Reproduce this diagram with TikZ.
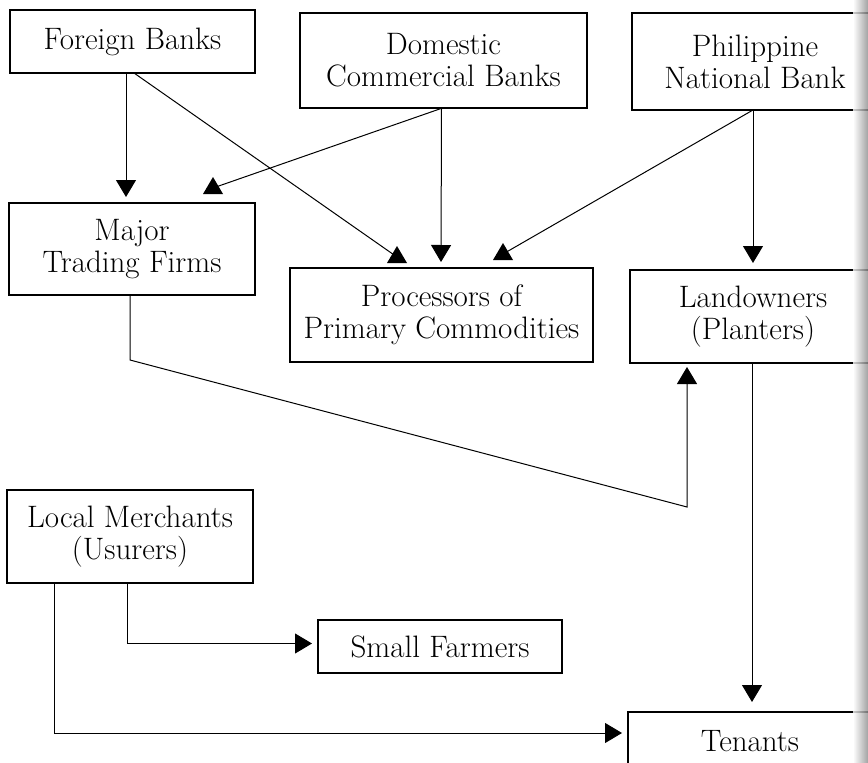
\documentclass[tikz,border=0pt]{standalone}
\usetikzlibrary{calc,arrows.meta}
\begin{document}
\begin{tikzpicture}[x=1pt,y=-1pt,
  box/.style={draw, line width=1.8pt, align=center, inner sep=0pt, outer sep=0pt,
    font=\fontsize{31}{32}\selectfont},
  link/.style={line width=1pt},
  arr/.style={link, -{Triangle[width=20pt,length=17pt]}},
  uptri/.style={fill=black}
]
\useasboundingbox (0,0) rectangle (868,763);
\fill[white] (0,0) rectangle (868,763);
\begin{scope}
\clip (0,0) rectangle (868,763);
% boxes
\node[box, minimum width=245, minimum height=63] (fb)  at (132.5,41.5) {Foreign Banks};
\node[box, minimum width=287, minimum height=95] (dcb) at (443.5,60.5) {Domestic\\Commercial Banks};
\node[box, minimum width=246, minimum height=97] (pnb) at (755,61.5) {Philippine\\National Bank};
\node[box, minimum width=246, minimum height=92] (mtf) at (132,249) {Major\\Trading Firms};
\node[box, minimum width=303, minimum height=94] (ppc) at (441.5,315) {Processors of\\Primary Commodities};
\node[box, minimum width=246, minimum height=93] (lo)  at (753,316.5) {Landowners\\(Planters)};
\node[box, minimum width=246, minimum height=93] (lm)  at (130,536.5) {Local Merchants\\(Usurers)};
\node[box, minimum width=244, minimum height=53] (sf)  at (440,646.5) {Small Farmers};
\node[box, minimum width=244, minimum height=58] (tn)  at (750,741) {Tenants};

% free ends of the slanted connectors (bases of upright triangles)
\coordinate (t2) at ($(ppc.north west)+(107,-5)$);
\coordinate (t3) at ($(mtf.north west)+(204,-9)$);
\coordinate (t5) at ($(ppc.north west)+(213,-8)$);

% connectors
\draw[arr] ($(fb.south west)+(116,0)$) -- ($(mtf.north west)+(117,-6)$);
\draw[link] ($(fb.south west)+(124,0)$) -- ($(t2)+(0,-6)$);
\draw[link] ($(dcb.south)+(-1,0)$) -- ($(t3)+(0,-6)$);
\draw[arr] ($(dcb.south)+(-2,0)$) -- ($(ppc.north west)+(151,-6)$);
\draw[link] ($(pnb.south west)+(121,0)$) -- ($(t5)+(0,-6)$);
\draw[arr] ($(pnb.south west)+(121,0)$) -- ($(lo.north west)+(123,-7)$);
\draw[arr] ($(mtf.south west)+(121,0)$) -- ++(0,65) -- ++(557,147) -- ($(lo.south west)+(57,4)$);
\draw[arr] ($(lo.south west)+(122,0)$) -- ($(tn.north west)+(124,-10)$);
\draw[arr] ($(lm.south west)+(120,0)$) |- ($(sf.west)+(-6,-3)$);
\draw[arr] ($(lm.south west)+(47,0)$) |- ($(tn.west)+(-6,-8)$);

% upright triangle heads
\foreach \t in {t2,t3,t5}
  \fill[uptri] (\t) ++(-10,0) -- ++(20,0) -- ++(-10,-17) -- cycle;

% binding shadow at the right edge
\shade[left color=white, right color=black!45, opacity=0.8] (853,0) rectangle (868,763);
\end{scope}
\end{tikzpicture}
\end{document}
